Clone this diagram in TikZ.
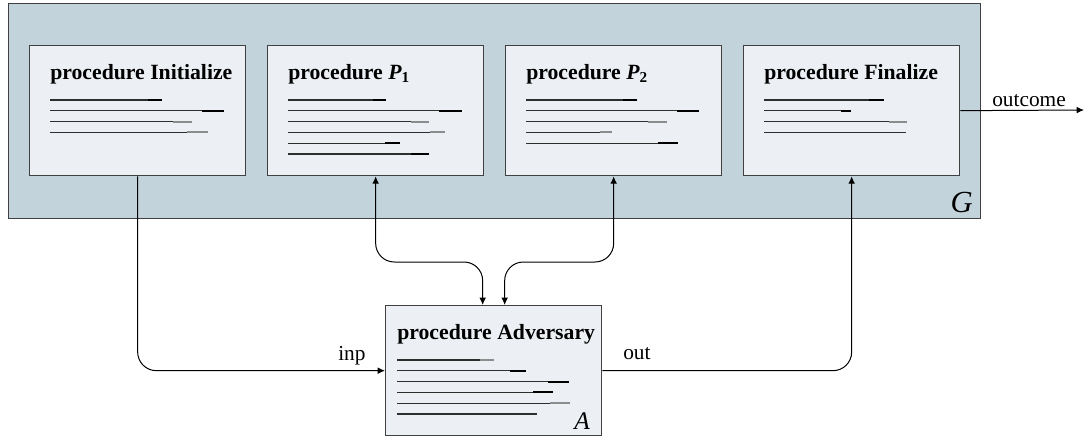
\documentclass[tikz,border=0pt]{standalone}
\usepackage{fontspec}
\setmainfont{Liberation Serif}
\usetikzlibrary{calc,arrows.meta}

\definecolor{gamefill}{HTML}{C2D3DC}
\definecolor{procfill}{HTML}{ECF0F4}
\definecolor{frame}{HTML}{404040}

\tikzset{
  gamebox/.style={draw=frame, fill=gamefill, line width=1pt, minimum width=729pt, minimum height=161.25pt, inner sep=0pt, anchor=north west},
  procbox/.style={draw=frame, fill=procfill, line width=1pt, minimum width=162pt, minimum height=97.5pt, inner sep=0pt, anchor=north west},
  proctitle/.style={anchor=base west, inner sep=0pt, font=\fontsize{16.3}{19}\selectfont\bfseries},
  lbl/.style={anchor=base west, inner sep=0pt, font=\fontsize{16}{19}\selectfont},
  biglbl/.style={anchor=base east, inner sep=0pt, font=\fontsize{23}{26}\selectfont\itshape},
  codeline/.style={draw=black!82, line width=0.95pt},
  codetip/.style={line width=1.4pt},
  wire/.style={line width=0.75pt, rounded corners=14pt}
}

% one row of pseudo code per entry: length/tip length/tip colour
\newcommand{\codelines}[3]{%
  \foreach \len/\tip/\tipcol [count=\i] in {#3} {
    \draw[codeline] ($(#1.north west)+(#2,{44.2+\i*10.8})$) -- ++(\len,0);
    \draw[codetip,\tipcol] ($(#1.north west)+({#2+\len-\tip},{44.2+\i*10.8})$) -- ++(\tip,0);
  }}

\begin{document}
\begin{tikzpicture}[x=0.75pt, y=-0.75pt, >={Latex[length=5.5pt,width=5pt]}]
\useasboundingbox (0,0) rectangle (1085,436);

% the game G
\node[gamebox] (G) at (8,3) {};
\node[biglbl] (Glbl) at (973,212) {G};

\node[procbox] (Init) at (29,45) {};
\node[procbox] (P1) at (267,45) {};
\node[procbox] (P2) at (505,45) {};
\node[procbox] (Fin) at (743,45) {};
\node[procbox] (Adv) at (385,305) {};
\node[biglbl, font=\fontsize{19}{22}\selectfont\itshape] (Albl) at (590,429) {A};

\node[proctitle] (InitTitle) at ($(Init.north west)+(21,34)$) {procedure Initialize};
\node[proctitle] (P1Title) at ($(P1.north west)+(21,34)$) {procedure \textit{P}\textsubscript{1}};
\node[proctitle] (P2Title) at ($(P2.north west)+(21,34)$) {procedure \textit{P}\textsubscript{2}};
\node[proctitle] (FinTitle) at ($(Fin.north west)+(21,34)$) {procedure Finalize};
\node[proctitle] (AdvTitle) at ($(Adv.north west)+(12,34)$) {procedure Adversary};

\codelines{Init}{21}{112/14/black, 174/22/black, 142/19/black!45, 158/21/black!45}
\codelines{P1}{21}{98/13/black, 174/23/black, 141/18/black!45, 157/15/black!45, 112/15/black, 141/18/black}
\codelines{P2}{21}{111/14/black, 173/22/black, 141/19/black!45, 86/12/black!45, 152/20/black}
\codelines{Fin}{21}{120/15/black, 87/10/black, 143/18/black!45, 142/0/black}
\codelines{Adv}{12}{97/14/black!45, 129/16/black, 172/21/black, 156/20/black, 173/20/black!45, 140/0/black}

% connectors
\coordinate (a1) at ($(Adv.north)+(-11,0)$);
\coordinate (a2) at ($(Adv.north)+(11,0)$);
\coordinate (outc) at (1084,110);

\draw[wire,->] (Init.south) |- (Adv.west);
\draw[wire,<->] (P1.south) |- ($(a1)+(0,-43)$) -- (a1);
\draw[wire,<->] (P2.south) |- ($(a2)+(0,-43)$) -- (a2);
\draw[wire,->] (Adv.east) -| (Fin.south);
\draw[wire,->] (Fin.east) -- (outc);

\node[lbl] (inp) at (338,360) {inp};
\node[lbl] (out) at (623,359) {out};
\node[lbl] (outcome) at (992,106) {outcome};
\end{tikzpicture}
\end{document}
